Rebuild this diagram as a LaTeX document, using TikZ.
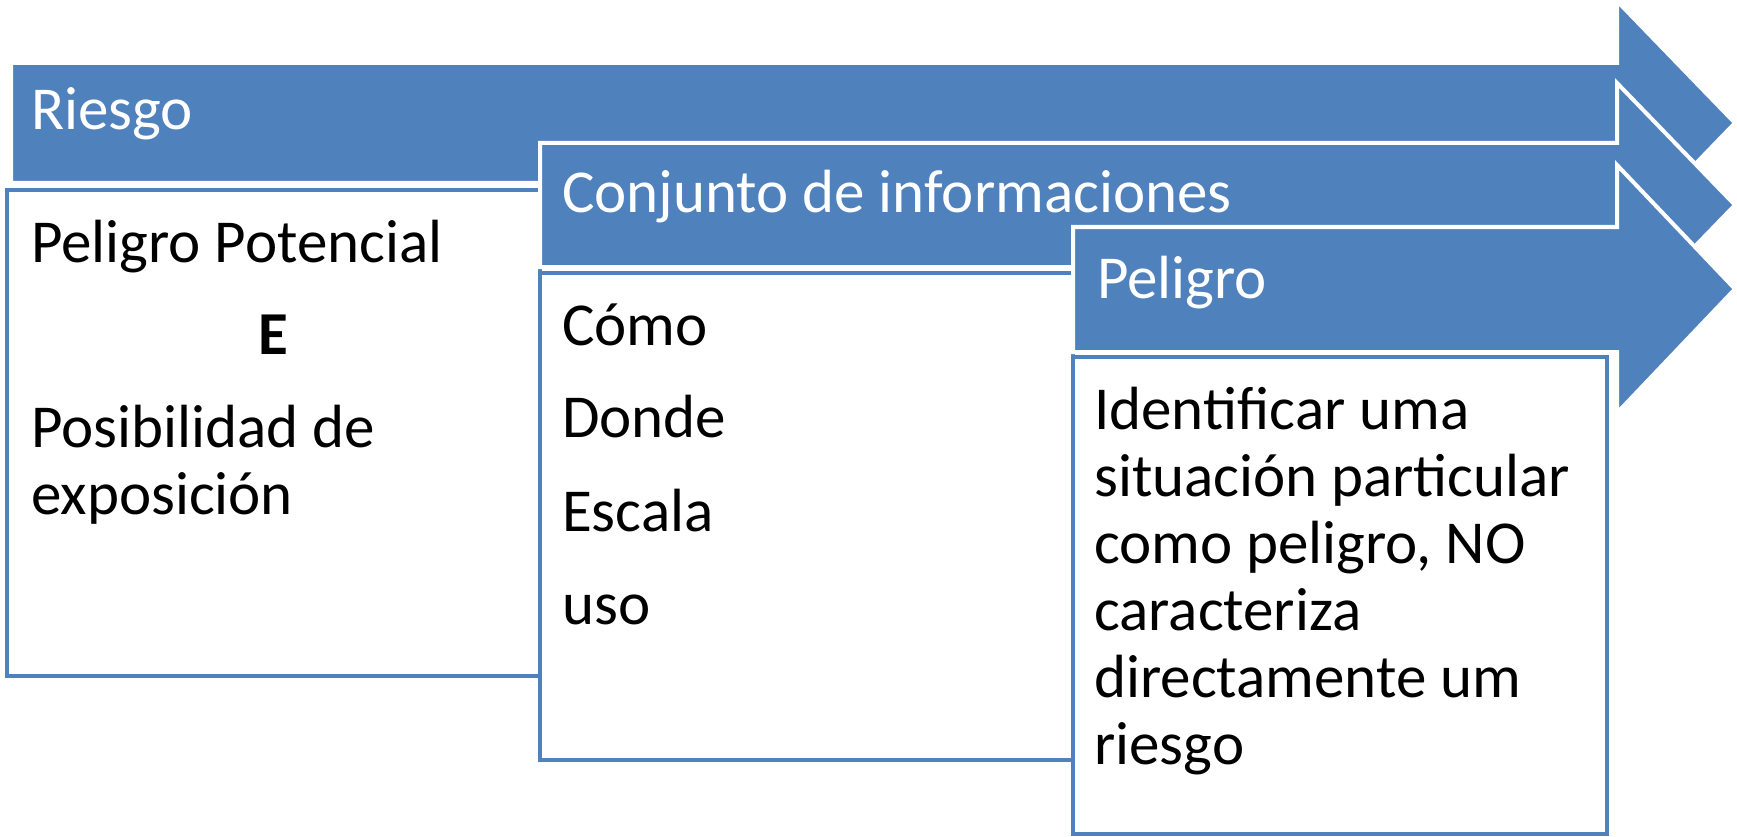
\documentclass[tikz,border=0pt]{standalone}
\usepackage{fontspec}
\setmainfont{Carlito}
\usepackage{xcolor}
\usepackage{tikz}
\usetikzlibrary{positioning}
\definecolor{officeblue}{HTML}{4F81BD}

\begin{document}
\begin{tikzpicture}[x=1pt, y=-1pt,
  font=\fontsize{61}{67}\selectfont,
  arrowshape/.style={fill=officeblue, draw=white, line width=4, line join=miter},
  panel/.style={fill=white, draw=officeblue, line width=4.5},
  headtext/.style={text=white, anchor=base west, inner sep=0},
  bodytext/.style={text=black, anchor=base west, inner sep=0, align=left, text width=520pt,
    execute at begin node={\spaceskip=13.8pt\relax}}]
  \useasboundingbox (0,0) rectangle (1737,837);

  % First arrow and its panel
  \draw[arrowshape] (11,63) -- (1617,63) -- (1617,1) -- (1735,123)
    -- (1617,245) -- (1617,183) -- (11,183) -- cycle;
  \node[headtext] (riesgo) at (31,130) {Riesgo};
  \draw[panel] (7,190) rectangle (540,676);
  \node[bodytext] (potencial) at (31,262) {Peligro Potencial};
  \node[anchor=base, inner sep=0, font=\fontsize{61}{67}\selectfont\bfseries] (E) at (273,354) {E};
  \node[bodytext] (exposicion) at (31,447) {Posibilidad de\\exposición};

  % Second arrow and its panel
  \draw[arrowshape] (540,143) -- (1617,143) -- (1617,83) -- (1735,205)
    -- (1617,327) -- (1617,267) -- (540,267) -- cycle;
  \node[headtext] (conjunto) at (562,213) {Conjunto de informaciones};
  \draw[panel] (540,273) rectangle (1073,760);
  \node[bodytext] (como) at (562,345) {Cómo};
  \node[bodytext] (donde) at (562,437) {Donde};
  \node[bodytext] (escala) at (562,531) {Escala};
  \node[bodytext] (uso) at (562,624) {uso};

  % Third arrow and its panel
  \draw[arrowshape] (1073,227) -- (1617,227) -- (1617,165) -- (1735,289)
    -- (1617,413) -- (1617,352) -- (1073,352) -- cycle;
  \node[headtext] (peligro) at (1097,298) {Peligro};
  \draw[panel] (1073,357) rectangle (1607,834);
  \node[bodytext] (identificar) at (1094,429) {Identificar uma\\situación particular\\como peligro, NO\\caracteriza\\directamente um\\riesgo};
\end{tikzpicture}
\end{document}
